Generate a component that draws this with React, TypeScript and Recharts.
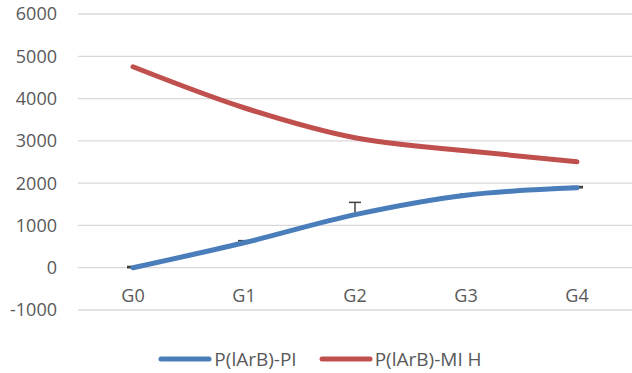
import React from "react";
import { LineChart, Line, XAxis, YAxis, CartesianGrid, Legend, ErrorBar } from "recharts";

const categories = ["G0", "G1", "G2", "G3", "G4"];
const piValues = [0, 590, 1255, 1715, 1890];
const piErrors = [30, 50, 290, 30, 30];
const miValues = [4752, 3783, 3073, 2766, 2506];
const yTicks = [-1000, 0, 1000, 2000, 3000, 4000, 5000, 6000];
const seriesNames = ["P(lArB)-PI", "P(lArB)-MI H"];
const seriesColors = ["#4A7EBB", "#C0504D"];

const data = categories.map((c, i) => ({
  name: c,
  pi: piValues[i],
  piErr: [0, piErrors[i]],
  mi: miValues[i],
}));

const FONT = "'Open Sans', sans-serif";
const TXT = "#595959";

const XTick = (props: any) => {
  const { x, y, payload } = props;
  return (
    <text x={x} y={y} dy={-16} textAnchor="middle" fill={TXT} fontSize={18} fontFamily={FONT}>
      {payload.value}
    </text>
  );
};

const LegendContent = () => (
  <div style={{ display: "flex", justifyContent: "center", alignItems: "center", height: 20, fontFamily: FONT, fontSize: 19, color: TXT, paddingLeft: 8 }}>
    {seriesNames.map((n, i) => (
      <div key={n} style={{ display: "flex", alignItems: "center", marginLeft: i ? 22 : 0 }}>
        <svg width={54} height={10}>
          <line x1={3} y1={5} x2={51} y2={5} stroke={seriesColors[i]} strokeWidth={5} strokeLinecap="round" />
        </svg>
        <span style={{ marginLeft: 2, whiteSpace: "nowrap" }}>{n}</span>
      </div>
    ))}
  </div>
);

export default function App() {
  return (
    <div style={{ position: "absolute", left: 0, top: 0, background: "#fff" }}>
      <LineChart width={632} height={373} data={data} margin={{ top: 14, right: 0, left: 0, bottom: 13 }}>
        <CartesianGrid vertical={false} stroke="#D9D9D9" strokeWidth={1.3} />
        <XAxis
          dataKey="name"
          height={30}
          axisLine={false}
          tickLine={false}
          tick={<XTick />}
          interval={0}
          padding={{ left: 55, right: 55 }}
        />
        <YAxis
          width={78}
          domain={[-1000, 6000]}
          ticks={yTicks}
          axisLine={false}
          tickLine={false}
          tickMargin={15}
          tick={{ fill: TXT, fontSize: 18, fontFamily: FONT }}
        />
        <Legend verticalAlign="bottom" height={20} wrapperStyle={{ bottom: 4 }} content={<LegendContent />} />
        <Line dataKey="pi" name={seriesNames[0]} type="monotone" stroke={seriesColors[0]} strokeWidth={5} strokeLinecap="round" dot={false} isAnimationActive={false}>
          <ErrorBar dataKey="piErr" width={6} stroke="#404040" strokeWidth={1.5} direction="y" isAnimationActive={false} />
        </Line>
        <Line dataKey="mi" name={seriesNames[1]} type="monotone" stroke={seriesColors[1]} strokeWidth={5} strokeLinecap="round" dot={false} isAnimationActive={false} />
      </LineChart>
    </div>
  );
}
